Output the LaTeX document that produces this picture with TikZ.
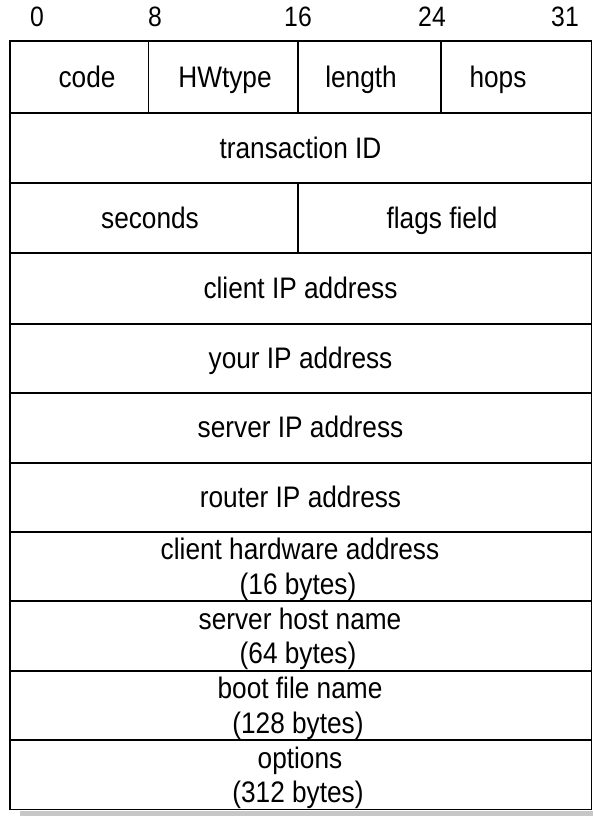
\documentclass[tikz,border=0pt]{standalone}
\usepackage{graphicx}
\usepackage{fontspec}
\setmainfont{Liberation Sans}
\newcommand{\tallt}[1]{\scalebox{0.99}[1.12]{#1}}
\begin{document}
\begin{tikzpicture}[x=1pt,y=-1pt,
  gridline/.style={line width=1.7pt, draw=black},
  lbl/.style={font=\fontsize{26.5}{31}\selectfont, inner sep=0pt, anchor=base},
  hdr/.style={font=\fontsize{25}{30}\selectfont, inner sep=0pt, anchor=base},
  shadowbar/.style={fill=black!22, draw=none}]
\useasboundingbox (0,0) rectangle (593,816);
% shadow
\fill[shadowbar] (20,810.5) rectangle (593,816);
% outer frame
\draw[gridline, fill=white] (10,40.7) rectangle (591.5,809.5);
% row separators
\foreach \y in {112.7,182.7,253.3,324,392.7,462.7,531.7,601,670.7,740}
  \draw[gridline] (10,\y) -- (591.5,\y);
% column separators
\draw[gridline] (148.5,40.7) -- (148.5,112.7);
\draw[gridline] (297.7,40.7) -- (297.7,112.7);
\draw[gridline] (440.7,40.7) -- (440.7,112.7);
\draw[gridline] (297.7,182.7) -- (297.7,253.3);
% header bit numbers
\node[hdr] (b0)  at (37,27) {\tallt{0}};
\node[hdr] (b8)  at (155,27) {\tallt{8}};
\node[hdr] (b16) at (298,27) {\tallt{16}};
\node[hdr] (b24) at (432,27) {\tallt{24}};
\node[hdr] (b31) at (565,27) {\tallt{31}};
% row 1
\node[lbl] (code)   at (87,87.5) {\tallt{code}};
\node[lbl] (hwtype) at (225,87.5) {\tallt{HWtype}};
\node[lbl] (length) at (361,87.5) {\tallt{length}};
\node[lbl] (hops)   at (498,87.5) {\tallt{hops}};
% single-line rows
\node[lbl] (xid)     at (300.5,158) {\tallt{transaction ID}};
\node[lbl] (secs)    at (150,228) {\tallt{seconds}};
\node[lbl] (flags)   at (442,228) {\tallt{flags field}};
\node[lbl] (ciaddr)  at (300.5,298.5) {\tallt{client IP address}};
\node[lbl] (yiaddr)  at (300.5,368) {\tallt{your IP address}};
\node[lbl] (siaddr)  at (300.5,437.5) {\tallt{server IP address}};
\node[lbl] (giaddr)  at (300.5,507) {\tallt{router IP address}};
% two-line rows
\node[lbl] (chaddr)  at (300,559.5) {\tallt{client hardware address}};
\node[lbl] (chaddrb) at (298,594) {\tallt{(16 bytes)}};
\node[lbl] (sname)   at (300,629) {\tallt{server host name}};
\node[lbl] (snameb)  at (298,663.5) {\tallt{(64 bytes)}};
\node[lbl] (file)    at (300,698.5) {\tallt{boot file name}};
\node[lbl] (fileb)   at (298,733) {\tallt{(128 bytes)}};
\node[lbl] (opts)    at (300,768) {\tallt{options}};
\node[lbl] (optsb)   at (298,802.5) {\tallt{(312 bytes)}};
\end{tikzpicture}
\end{document}
